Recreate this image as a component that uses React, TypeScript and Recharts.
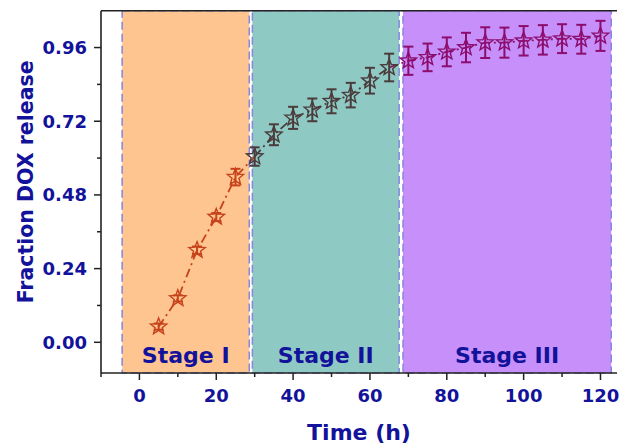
import React from 'react';
import { ComposedChart, Line, XAxis, YAxis, ReferenceArea, ReferenceLine, ErrorBar } from 'recharts';

// ---- data ----
const times = [5, 10, 15, 20, 25, 30, 35, 40, 45, 50, 55, 60, 65, 70, 75, 80, 85, 90, 95, 100, 105, 110, 115, 120];
const fraction = [0.051, 0.143, 0.300, 0.408, 0.538, 0.605, 0.676, 0.731, 0.757, 0.785, 0.805, 0.852, 0.895, 0.917, 0.928, 0.946, 0.960, 0.976, 0.976, 0.982, 0.985, 0.989, 0.987, 0.998];
const fractionError = [0.010, 0.010, 0.012, 0.013, 0.027, 0.030, 0.034, 0.036, 0.037, 0.039, 0.040, 0.042, 0.045, 0.046, 0.045, 0.047, 0.048, 0.050, 0.049, 0.048, 0.048, 0.047, 0.047, 0.049];

const stageNames = ['Stage I', 'Stage II', 'Stage III'];
const stageStart = [-4.5, 29.4, 68.6];
const stageEnd = [28.6, 67.6, 122.8];
const stageFill = ['#ffc590', '#8fc9c4', '#c68ff9'];
const stageMarker = ['#c6431c', '#4b3c3c', '#8c0d6d'];

const lineStart = [5, 30, 65];
const lineEnd = [30, 65, 120];
const lineColor = ['#c6431c', '#4b3c3c', '#8c0d6d'];

const xMajorTicks = [0, 20, 40, 60, 80, 100, 120];
const xMinorTicks = [-10, 10, 30, 50, 70, 90, 110];
const yMajorTicks = [0, 0.24, 0.48, 0.72, 0.96];
const yMinorTicks = [0.12, 0.36, 0.6, 0.84];

const X_DOMAIN = [-10, 124.3];
const Y_DOMAIN = [-0.1, 1.08];

// ---- derived tables ----
const rows = times.map((t, i) => ({ t, v: fraction[i], err: fractionError[i] }));
const stageRows = stageNames.map((_, s) => rows.filter(r => r.t >= stageStart[s] && r.t <= stageEnd[s]));
const lineRows = lineStart.map((a, s) => rows.filter(r => r.t >= a && r.t <= lineEnd[s]));

const NAVY = '#12129a';
const FONT = 'DejaVu Sans';
const AXIS = '#222';

function starPath(cx: number, cy: number, R: number, r: number) {
  let d = '';
  for (let k = 0; k < 10; k++) {
    const ang = -Math.PI / 2 + (k * Math.PI) / 5;
    const rad = k % 2 === 0 ? R : r;
    const x = cx + rad * Math.cos(ang);
    const y = cy + rad * Math.sin(ang);
    d += (k === 0 ? 'M' : 'L') + x.toFixed(2) + ',' + y.toFixed(2);
  }
  return d + 'Z';
}

const makeStar = (color: string) => (props: any) => {
  const { cx, cy, index } = props;
  if (cx == null || cy == null) return <g key={'s' + index} />;
  return <path key={'s' + index} d={starPath(cx, cy, 8.6, 3.7)} fill="none" stroke={color} strokeWidth={1.4} strokeLinejoin="miter" />;
};

const X_TICK = 7;
const X_MARGIN = 9;
const Y_TICK = 7;
const Y_MARGIN = 7;

const XTick = (props: any) => {
  const { x, y, payload } = props;
  const major = xMajorTicks.includes(payload.value);
  const axisY = y - X_TICK - X_MARGIN;
  return (
    <g>
      <line x1={x} x2={x} y1={axisY} y2={axisY + (major ? 7 : 4)} stroke={AXIS} strokeWidth={1.5} />
      {major && (
        <text x={x} y={y} dy="0.71em" textAnchor="middle" fill={NAVY} fontFamily={FONT} fontWeight="bold" fontSize={18}>
          {payload.value}
        </text>
      )}
    </g>
  );
};

const YTick = (props: any) => {
  const { x, y, payload } = props;
  const major = yMajorTicks.some(v => Math.abs(v - payload.value) < 1e-9);
  const axisX = x + Y_TICK + Y_MARGIN;
  return (
    <g>
      <line x1={axisX - (major ? 7 : 4)} x2={axisX} y1={y} y2={y} stroke={AXIS} strokeWidth={1.5} />
      {major && (
        <text x={x} y={y} dy="0.355em" textAnchor="end" fill={NAVY} fontFamily={FONT} fontWeight="bold" fontSize={18}>
          {Number(payload.value).toFixed(2)}
        </text>
      )}
    </g>
  );
};

const YTitle = (p: any) => {
  const vb = p.viewBox;
  const cx = vb.x + 33;
  const cy = vb.y + vb.height / 2 - 10;
  return (
    <text x={cx} y={cy} transform={`rotate(-90 ${cx} ${cy})`} textAnchor="middle" fill={NAVY} fontFamily={FONT} fontWeight="bold" fontSize={20.5}>
      Fraction DOX release
    </text>
  );
};

export default function App() {
  return (
    <div style={{ position: 'absolute', left: 0, top: 0, width: 619, height: 443, background: '#fff' }}>
      <ComposedChart width={619} height={443} margin={{ top: 10.7, right: 2, bottom: 0, left: 0 }}>
        <XAxis
          dataKey="t"
          type="number"
          domain={X_DOMAIN}
          ticks={[...xMinorTicks, ...xMajorTicks].sort((a, b) => a - b)}
          interval={0}
          allowDataOverflow
          height={70}
          tickSize={X_TICK}
          tickMargin={X_MARGIN}
          tickLine={false}
          tick={<XTick />}
          axisLine={{ stroke: AXIS, strokeWidth: 1.6 }}
          label={{ value: 'Time (h)', position: 'insideBottom', offset: 3.5, fill: NAVY, fontFamily: FONT, fontWeight: 'bold', fontSize: 22 }}
        />
        <YAxis
          type="number"
          domain={Y_DOMAIN}
          ticks={[...yMajorTicks, ...yMinorTicks].sort((a, b) => a - b)}
          interval={0}
          allowDataOverflow
          width={101}
          tickSize={Y_TICK}
          tickMargin={Y_MARGIN}
          tickLine={false}
          tick={<YTick />}
          axisLine={{ stroke: AXIS, strokeWidth: 1.6 }}
          label={{ content: YTitle }}
        />
        {stageNames.map((name, s) => (
          <ReferenceArea
            key={name}
            x1={stageStart[s]}
            x2={stageEnd[s]}
            y1={Y_DOMAIN[0]}
            y2={Y_DOMAIN[1]}
            fill={stageFill[s]}
            fillOpacity={1}
            stroke="#8585dc"
            strokeWidth={1.5}
            strokeDasharray="8 4"
            ifOverflow="visible"
            label={{ value: name, position: 'insideBottom', offset: 10, fill: NAVY, fontFamily: FONT, fontWeight: 'bold', fontSize: 22 }}
          />
        ))}
        <ReferenceLine y={Y_DOMAIN[1]} stroke={AXIS} strokeWidth={1.4} ifOverflow="visible" />
        {lineRows.map((data, s) => (
          <Line
            key={'l' + s}
            data={data}
            dataKey="v"
            type="linear"
            stroke={lineColor[s]}
            strokeWidth={1.8}
            strokeDasharray="9 4 2 4"
            dot={false}
            activeDot={false}
            isAnimationActive={false}
          />
        ))}
        {stageRows.map((data, s) => (
          <Line
            key={'p' + s}
            data={data}
            dataKey="v"
            type="linear"
            stroke="none"
            strokeWidth={0}
            dot={makeStar(stageMarker[s])}
            activeDot={false}
            isAnimationActive={false}
          >
            <ErrorBar dataKey="err" direction="y" width={5} stroke={stageMarker[s]} strokeWidth={2} isAnimationActive={false} />
          </Line>
        ))}
      </ComposedChart>
    </div>
  );
}
